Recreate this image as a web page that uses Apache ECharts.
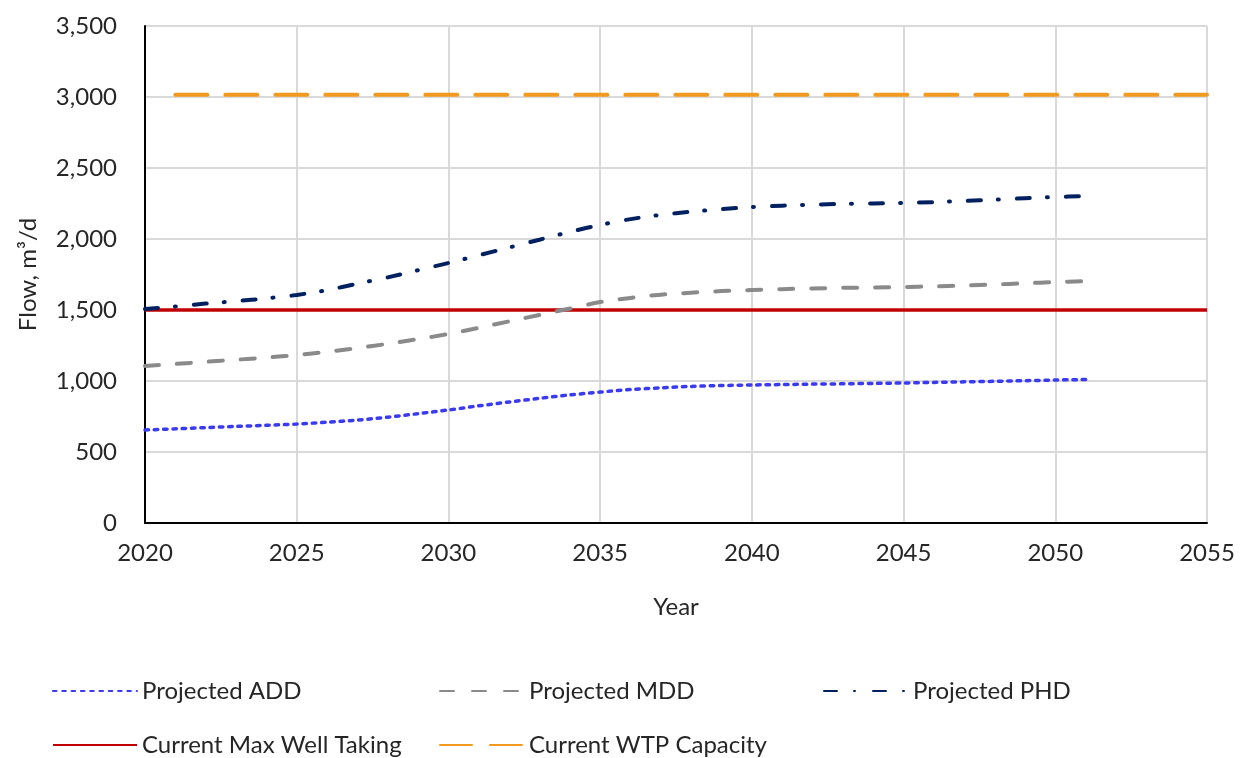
<!DOCTYPE html>
<html><head><meta charset="utf-8">
<script src="https://cdn.jsdelivr.net/npm/echarts@6/dist/echarts.min.js"></script>
<style>html,body{margin:0;padding:0;background:#fff}#c{width:1245px;height:758px}</style>
</head><body><div id="c"></div>
<script>
const years = [2020,2021,2022,2023,2024,2025,2026,2027,2028,2029,2030,2031,2032,2033,2034,2035,2036,2037,2038,2039,2040,2041,2042,2043,2044,2045,2046,2047,2048,2049,2050,2051];
const addVals = [655,663,672,680,688,697,710,725,745,770,796,825,852,878,902,922,940,952,962,968,972,975,978,980,983,986,990,994,998,1002,1007,1010];
const mddVals = [1106,1120,1135,1150,1165,1183,1205,1232,1262,1295,1331,1375,1420,1465,1510,1556,1585,1608,1622,1633,1641,1647,1652,1656,1659,1662,1667,1672,1680,1688,1697,1703];
const phdVals = [1507,1525,1545,1562,1582,1606,1640,1685,1730,1780,1831,1885,1940,1995,2050,2099,2140,2170,2192,2210,2225,2235,2242,2247,2250,2254,2260,2268,2277,2287,2296,2302];
const wellYears = [2020,2055];
const wellVals = [1500,1500];
const wtpYears = [2021,2055];
const wtpVals = [3015,3015];
const names = ['Projected ADD','Projected MDD','Projected PHD','Current Max Well Taking','Current WTP Capacity'];

const font = 'Lato, "Open Sans", sans-serif';
const txt = '#262626';
const pair = (xs, ys) => xs.map((x,i)=>[x, ys[i]]);

const chart = echarts.init(document.getElementById('c'));
const legendBase = {itemWidth: 84, itemHeight: 14, itemGap: 12,
  itemStyle:{opacity:0},
  textStyle:{fontFamily:font, fontSize:24, color:txt}};
chart.setOption({
  animation:false,
  grid:{left:145, right:38, top:26, bottom:235},
  xAxis:{type:'value', min:2020, max:2055, interval:5,
    name:'Year', nameLocation:'middle', nameGap:72,
    nameTextStyle:{fontFamily:font, fontSize:24, color:txt},
    axisLine:{show:true, lineStyle:{color:'#000', width:2}},
    axisTick:{show:false},
    axisLabel:{fontFamily:font, fontSize:24, color:txt, margin:18, formatter: v => String(v)},
    splitLine:{show:true, lineStyle:{color:'#d9d9d9', width:2}}},
  yAxis:{type:'value', min:0, max:3500, interval:500,
    name:'Flow, m³/d', nameLocation:'middle', nameGap:105,
    nameTextStyle:{fontFamily:font, fontSize:24, color:txt},
    axisLine:{show:true, lineStyle:{color:'#000', width:2}},
    axisTick:{show:false},
    axisLabel:{fontFamily:font, fontSize:24, color:txt, margin:28,
      formatter: v => v.toLocaleString('en-US')},
    splitLine:{show:true, lineStyle:{color:'#d9d9d9', width:2}}},
  legend:[
    Object.assign({}, legendBase, {data:[names[0]], left:47, top:674}),
    Object.assign({}, legendBase, {data:[names[1]], left:434, top:674}),
    Object.assign({}, legendBase, {data:[names[2]], left:818, top:674}),
    Object.assign({}, legendBase, {data:[names[3]], left:47, top:728}),
    Object.assign({}, legendBase, {data:[names[4]], left:434, top:728})
  ],
  series:[
    {name:names[3], type:'line', data:pair(wellYears, wellVals), showSymbol:false, symbol:'none',
      lineStyle:{color:'#c00000', width:3.5}, itemStyle:{color:'#c00000'}},
    {name:names[4], type:'line', data:pair(wtpYears, wtpVals), showSymbol:false, symbol:'none',
      lineStyle:{color:'#f29a1f', width:4, type:[32,18], cap:'round'}, itemStyle:{color:'#f29a1f'}},
    {name:names[0], type:'line', data:pair(years, addVals), showSymbol:false, symbol:'none', smooth:0.3,
      lineStyle:{color:'#3a3af0', width:3.5, type:[3.5,5.8], cap:'round'}, itemStyle:{color:'#3a3af0'}},
    {name:names[1], type:'line', data:pair(years, mddVals), showSymbol:false, symbol:'none', smooth:0.3,
      lineStyle:{color:'#8a8a8a', width:4, type:[14,18], cap:'round'}, itemStyle:{color:'#8a8a8a'}},
    {name:names[2], type:'line', data:pair(years, phdVals), showSymbol:false, symbol:'none', smooth:0.3,
      lineStyle:{color:'#002060', width:4, type:[13,17,1,18], cap:'round'}, itemStyle:{color:'#002060'}}
  ]
});
</script></body></html>
